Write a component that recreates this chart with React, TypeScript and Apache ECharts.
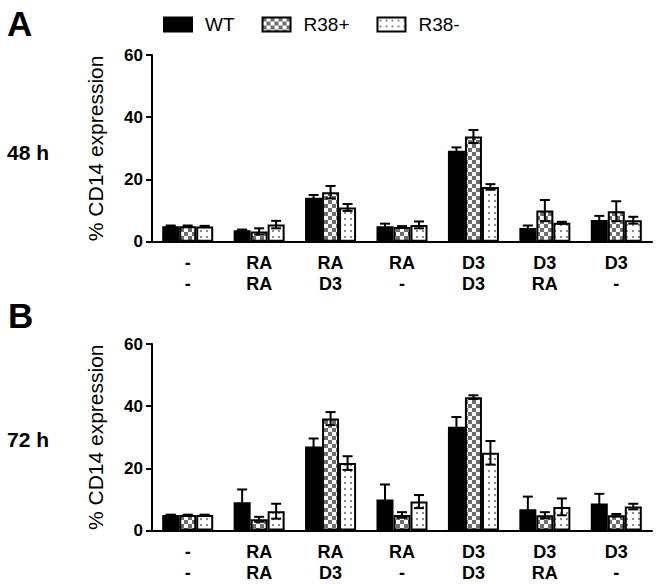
import React, { useEffect, useRef } from 'react';
import * as echarts from 'echarts';

const treatmentTop = ['-', 'RA', 'RA', 'RA', 'D3', 'D3', 'D3'];
const treatmentBottom = ['-', 'RA', 'D3', '-', 'D3', 'RA', '-'];
const seriesNames = ['WT', 'R38+', 'R38-'];
const yTicks = [0, 20, 40, 60];

// 48 h (panel A)
const wt48 = [5.0, 3.7, 14.1, 5.0, 29.2, 4.4, 7.0];
const wt48Err = [0.2, 0.2, 0.9, 0.8, 1.1, 0.8, 1.3];
const pos48 = [5.0, 3.3, 15.9, 4.7, 33.8, 10.0, 9.8];
const pos48Err = [0.2, 1.0, 2.0, 0.3, 2.1, 3.4, 3.2];
const neg48 = [4.9, 5.5, 11.0, 5.4, 17.6, 6.1, 6.9];
const neg48Err = [0.2, 1.2, 1.1, 1.1, 0.9, 0.3, 1.1];

// 72 h (panel B)
const wt72 = [5.0, 9.1, 27.0, 10.0, 33.4, 6.8, 8.7];
const wt72Err = [0.1, 4.1, 2.6, 4.8, 3.1, 4.1, 3.1];
const pos72 = [5.0, 3.6, 36.0, 5.0, 42.9, 4.9, 4.9];
const pos72Err = [0.1, 0.8, 2.1, 0.9, 0.6, 1.0, 0.4];
const neg72 = [5.0, 6.2, 21.7, 9.3, 25.0, 7.6, 7.7];
const neg72Err = [0.1, 2.4, 2.2, 2.1, 3.8, 2.7, 0.9];

const FONT = "'Liberation Sans', Arial, sans-serif";
const BAR_W = 17;

function makeTile(kind: string): string {
  const c = document.createElement('canvas');
  c.width = 7;
  c.height = 7;
  const ctx = c.getContext('2d')!;
  ctx.fillStyle = '#ffffff';
  ctx.fillRect(0, 0, 7, 7);
  if (kind === 'checker') {
    c.width = 8;
    c.height = 8;
    ctx.fillStyle = '#ffffff';
    ctx.fillRect(0, 0, 8, 8);
    ctx.fillStyle = '#6e6e6e';
    ctx.fillRect(0, 0, 4, 4);
    ctx.fillRect(4, 4, 4, 4);
  } else {
    c.width = 6;
    c.height = 6;
    ctx.fillStyle = '#ffffff';
    ctx.fillRect(0, 0, 6, 6);
    ctx.fillStyle = '#8c8c8c';
    ctx.fillRect(2, 2, 2, 2);
  }
  return c.toDataURL();
}

export default function App() {
  const ref = useRef<HTMLDivElement>(null);
  useEffect(() => {
    if (!ref.current) return;
    const chart = echarts.init(ref.current, null, { renderer: 'svg' });
    const checker = { image: makeTile('checker'), repeat: 'repeat', imageWidth: 8, imageHeight: 8 };
    const dots = { image: makeTile('dots'), repeat: 'repeat', imageWidth: 6, imageHeight: 6 };
    const fills: any[] = ['#000000', checker, dots];

    const panels = [
      { means: [wt48, pos48, neg48], errs: [wt48Err, pos48Err, neg48Err] },
      { means: [wt72, pos72, neg72], errs: [wt72Err, pos72Err, neg72Err] },
    ];
    const cats = treatmentTop.map((t, j) => t + '\n' + treatmentBottom[j]);

    const series: any[] = [];
    panels.forEach((p, pi) => {
      p.means.forEach((m, si) => {
        series.push({
          type: 'bar',
          name: seriesNames[si],
          xAxisIndex: pi,
          yAxisIndex: pi,
          data: m,
          barWidth: BAR_W,
          barGap: '0%',
          itemStyle: { color: fills[si], borderColor: '#000', borderWidth: 2 },
          emphasis: { disabled: true },
        });
      });
      const errData: number[][] = [];
      p.means.forEach((m, si) => {
        m.forEach((v, ci) => errData.push([ci, v, p.errs[si][ci], si]));
      });
      series.push({
        type: 'custom',
        name: 'err' + pi,
        xAxisIndex: pi,
        yAxisIndex: pi,
        z: 5,
        encode: { x: 0, y: 1 },
        data: errData,
        renderItem: (params: any, api: any) => {
          const ci = api.value(0);
          const v = api.value(1);
          const e = api.value(2);
          const si = api.value(3);
          const base = api.coord([ci, v]);
          const x = base[0] + (si - 1) * BAR_W;
          const yt = api.coord([ci, v + e])[1];
          const yb = api.coord([ci, Math.max(v - e, 0)])[1];
          const style = { stroke: '#000', lineWidth: 2 };
          return {
            type: 'group',
            children: [
              { type: 'line', shape: { x1: x, y1: yt, x2: x, y2: yb }, style },
              { type: 'line', shape: { x1: x - 5, y1: yt, x2: x + 5, y2: yt }, style },
              { type: 'line', shape: { x1: x - 5, y1: yb, x2: x + 5, y2: yb }, style },
            ],
          };
        },
      });
    });

    const grids = [
      { left: 152, top: 55, width: 500, height: 186.7 },
      { left: 152, top: 344, width: 500, height: 186.5 },
    ];

    chart.setOption({
      animation: false,
      backgroundColor: '#fff',
      grid: grids,
      legend: {
        data: seriesNames,
        left: 158,
        top: 10,
        icon: 'rect',
        itemWidth: 28,
        itemHeight: 14,
        itemGap: 27,
        selectedMode: false,
        textStyle: { fontSize: 19, fontFamily: FONT, color: '#000', padding: [0, 0, 0, 8] },
      },
      xAxis: [0, 1].map((i) => ({
        type: 'category',
        gridIndex: i,
        data: cats,
        axisLine: { lineStyle: { color: '#000', width: 2 } },
        axisTick: { alignWithLabel: true, length: 6, lineStyle: { color: '#000', width: 2 } },
        axisLabel: {
          fontSize: 18,
          fontWeight: 'bold',
          fontFamily: FONT,
          color: '#000',
          lineHeight: 21,
          margin: 11,
        },
        splitLine: { show: false },
      })),
      yAxis: [0, 1].map((i) => ({
        type: 'value',
        gridIndex: i,
        min: yTicks[0],
        max: yTicks[yTicks.length - 1],
        interval: 20,
        axisLine: { show: true, lineStyle: { color: '#000', width: 2 } },
        axisTick: { show: true, length: 6, lineStyle: { color: '#000', width: 2 } },
        axisLabel: { fontSize: 17, fontWeight: 'bold', fontFamily: FONT, color: '#000', margin: 9 },
        splitLine: { show: false },
        name: '% CD14 expression',
        nameLocation: 'middle',
        nameGap: 46,
        nameTextStyle: { fontSize: 21, fontFamily: FONT, color: '#000' },
      })),
      graphic: [
        { type: 'text', left: 7, top: 6, style: { text: 'A', font: `bold 35px ${FONT}`, fill: '#000' } },
        { type: 'text', left: 8, top: 298, style: { text: 'B', font: `bold 35px ${FONT}`, fill: '#000' } },
        { type: 'text', x: 7, y: 152, style: { text: '48 h', font: `bold 21px ${FONT}`, fill: '#000', verticalAlign: 'middle' } },
        { type: 'text', x: 7, y: 439, style: { text: '72 h', font: `bold 21px ${FONT}`, fill: '#000', verticalAlign: 'middle' } },
      ],
      series,
    });
    return () => chart.dispose();
  }, []);
  return (
    <div
      ref={ref}
      style={{ position: 'fixed', left: 0, top: 0, width: 661, height: 584 }}
    />
  );
}
